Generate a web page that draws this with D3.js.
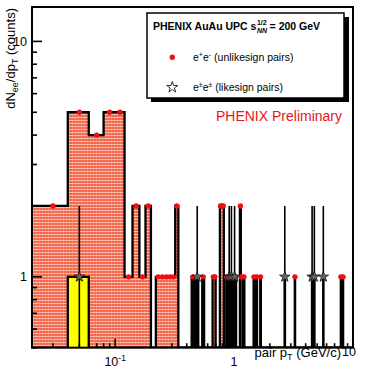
<!DOCTYPE html>
<html>
<head>
<meta charset="utf-8">
<script src="https://cdn.jsdelivr.net/npm/d3@7"></script>
<style>
  body { margin: 0; background: #fff; }
  svg { display: block; font-family: "Liberation Sans", Arial, sans-serif; }
</style>
</head>
<body>
<script>
// e+e- (unlikesign) pairs: bin centres in GeV/c, 0.02 GeV/c wide bins
var ulCenters = [0.03, 0.05, 0.07, 0.09, 0.11, 0.13, 0.15, 0.17, 0.19, 0.23, 0.25, 0.27, 0.29, 0.31, 0.33,
    0.45, 0.55, 0.67, 0.69, 0.77, 0.79, 0.81, 0.87, 0.89, 0.97, 1.03, 1.13, 1.15, 1.17, 1.21,
    1.47, 1.55, 1.67, 3.25, 7.91, 8.25];
var ulCounts = [2, 5, 4, 5, 5, 1, 2, 1, 2, 1, 1, 1, 1, 1, 2,
    1, 1, 1, 1, 2, 2, 2, 1, 1, 1, 1, 2, 1, 1, 1,
    1, 1, 1, 1, 1, 1];

// likesign pairs
var lsCenters = [0.05, 0.49, 0.91, 0.95, 1.01, 2.67, 4.53, 4.73, 5.63];
var lsCounts = [1, 1, 1, 1, 1, 1, 1, 1, 1];

var binWidth = 0.02;
var xDomain = [0.02, 10];
var yDomain = [0.5, 14];

var xTickValues = [0.1, 1, 10];
var xTickBase = ["10", "1", "10"];
var xTickExp = ["-1", "", ""];
var yTickValues = [1, 10];
var yTickLabels = ["1", "10"];

var w = 371, h = 383;
var pLeft = 32, pRight = 353, pTop = 7, pBottom = 347.7;

var svg = d3.select("body").append("svg")
    .attr("width", w)
    .attr("height", h);

var x = d3.scaleLog().domain(xDomain).range([pLeft, pRight]);
var y = d3.scaleLog().domain(yDomain).range([pBottom, pTop]);

// hatch-like fill used by ROOT for the unlikesign histogram
var defs = svg.append("defs");
var pat = defs.append("pattern")
    .attr("id", "hatch")
    .attr("width", 3).attr("height", 3)
    .attr("patternUnits", "userSpaceOnUse");
pat.append("rect").attr("width", 3).attr("height", 3).attr("fill", "#f3664a");
pat.append("rect").attr("width", 3).attr("height", 1).attr("fill", "#fff").attr("opacity", 0.5);
pat.append("rect").attr("width", 1).attr("height", 3).attr("fill", "#fff").attr("opacity", 0.15);

defs.append("clipPath").attr("id", "plotclip")
    .append("rect").attr("x", pLeft).attr("y", pTop)
    .attr("width", pRight - pLeft).attr("height", pBottom - pTop);

function makeBins(centers, counts) {
    var m = new Map();
    centers.forEach(function (c, i) { m.set(Math.round(c / binWidth - 0.5), counts[i]); });
    var first = Math.round(xDomain[0] / binWidth);
    var last = Math.round(xDomain[1] / binWidth);
    var out = [];
    for (var b = first; b < last; b++) out.push({ x0: b * binWidth, n: m.get(b) || 0 });
    out.push({ x0: last * binWidth, n: 0 });
    return out;
}

var ulBins = makeBins(ulCenters, ulCounts);
var lsBins = makeBins(lsCenters, lsCounts);

function yv(n) { return n > 0 ? y(n) : pBottom; }

var area = d3.area()
    .curve(d3.curveStepAfter)
    .x(function (d) { return x(d.x0); })
    .y0(pBottom)
    .y1(function (d) { return yv(d.n); });

var line = d3.line()
    .curve(d3.curveStepAfter)
    .x(function (d) { return x(d.x0); })
    .y(function (d) { return yv(d.n); });

var plot = svg.append("g").attr("clip-path", "url(#plotclip)");

// unlikesign histogram
plot.append("path").datum(ulBins)
    .attr("d", area)
    .attr("fill", "url(#hatch)");
plot.append("path").datum(ulBins)
    .attr("d", line)
    .attr("fill", "none")
    .attr("stroke", "#000")
    .attr("stroke-width", 2.3);

// likesign histogram
plot.append("path").datum(lsBins)
    .attr("d", area)
    .attr("fill", "#ffff00");
plot.append("path").datum(lsBins)
    .attr("d", line)
    .attr("fill", "none")
    .attr("stroke", "#000")
    .attr("stroke-width", 2.3);

// red markers for unlikesign
plot.selectAll("circle.ul")
    .data(ulCenters)
    .enter()
    .append("circle")
    .attr("class", "ul")
    .attr("cx", function (d) { return x(d); })
    .attr("cy", function (d, i) { return y(ulCounts[i]); })
    .attr("r", 2.7)
    .attr("fill", "#ee1111");

// error bars + stars for likesign
plot.selectAll("line.err")
    .data(lsCenters)
    .enter()
    .append("line")
    .attr("class", "err")
    .attr("x1", function (d) { return x(d); })
    .attr("x2", function (d) { return x(d); })
    .attr("y1", function (d, i) { return y(lsCounts[i] + Math.sqrt(lsCounts[i])); })
    .attr("y2", function (d, i) {
        var lo = lsCounts[i] - Math.sqrt(lsCounts[i]);
        return lo > yDomain[0] ? y(lo) : pBottom;
    })
    .attr("stroke", "#000")
    .attr("stroke-width", 1.6);

var star = d3.symbol().type(d3.symbolStar).size(34);
plot.selectAll("path.star")
    .data(lsCenters)
    .enter()
    .append("path")
    .attr("class", "star")
    .attr("d", star)
    .attr("transform", function (d, i) { return "translate(" + x(d) + "," + y(lsCounts[i]) + ")"; })
    .attr("fill", "#666")
    .attr("stroke", "#111")
    .attr("stroke-width", 0.8);

// ticks (ROOT style, pointing inside the frame)
var xt = x.ticks().filter(function (t) { return t >= xDomain[0] && t <= xDomain[1]; });
svg.append("g").selectAll("line")
    .data(xt)
    .enter()
    .append("line")
    .attr("x1", function (d) { return x(d); })
    .attr("x2", function (d) { return x(d); })
    .attr("y1", pBottom)
    .attr("y2", function (d) { return Math.abs(Math.log10(d) - Math.round(Math.log10(d))) < 1e-9 ? pBottom - 9 : pBottom - 4.5; })
    .attr("stroke", "#000")
    .attr("stroke-width", 1.6);

var yt = y.ticks().filter(function (t) { return t >= yDomain[0] && t <= yDomain[1]; });
svg.append("g").selectAll("line")
    .data(yt)
    .enter()
    .append("line")
    .attr("y1", function (d) { return y(d); })
    .attr("y2", function (d) { return y(d); })
    .attr("x1", pLeft)
    .attr("x2", function (d) { return Math.abs(Math.log10(d) - Math.round(Math.log10(d))) < 1e-9 ? pLeft + 10 : pLeft + 5; })
    .attr("stroke", "#000")
    .attr("stroke-width", 1.6);

// frame
svg.append("rect")
    .attr("x", pLeft).attr("y", pTop)
    .attr("width", pRight - pLeft).attr("height", pBottom - pTop)
    .attr("fill", "none")
    .attr("stroke", "#000")
    .attr("stroke-width", 2);

// tick labels
svg.append("g").selectAll("text")
    .data(yTickValues)
    .enter()
    .append("text")
    .attr("x", 27)
    .attr("y", function (d) { return y(d) + 4.5; })
    .attr("text-anchor", "end")
    .attr("font-size", 12.5)
    .text(function (d, i) { return yTickLabels[i]; });

var xl = svg.append("g").selectAll("text")
    .data(xTickValues)
    .enter()
    .append("text")
    .attr("x", function (d, i) { return i === 2 ? x(d) - 4 : x(d); })
    .attr("y", function (d, i) { return i === 2 ? 356 : 366; })
    .attr("text-anchor", "middle")
    .attr("font-size", 12.5);
xl.append("tspan").text(function (d, i) { return xTickBase[i]; });
xl.append("tspan")
    .attr("dy", -5)
    .attr("font-size", 8.5)
    .text(function (d, i) { return xTickExp[i]; });

// axis titles
var xTitle = svg.append("text")
    .attr("x", 341)
    .attr("y", 357)
    .attr("text-anchor", "end")
    .attr("font-size", 13);
xTitle.append("tspan").text("pair p");
xTitle.append("tspan").attr("dy", 3).attr("font-size", 9).text("T");
xTitle.append("tspan").attr("dy", -3).text(" (GeV/c)");

var yTitle = svg.append("text")
    .attr("transform", "translate(14.5,8) rotate(-90)")
    .attr("text-anchor", "end")
    .attr("font-size", 13);
yTitle.append("tspan").text("dN");
yTitle.append("tspan").attr("dy", 3).attr("font-size", 9).text("ee");
yTitle.append("tspan").attr("dy", -3).text("/dp");
yTitle.append("tspan").attr("dy", 3).attr("font-size", 9).text("T");
yTitle.append("tspan").attr("dy", -3).text(" (counts)");

// legend box with shadow
svg.append("rect")
    .attr("x", 151).attr("y", 17)
    .attr("width", 198).attr("height", 85)
    .attr("fill", "#000");
svg.append("rect")
    .attr("x", 147).attr("y", 13)
    .attr("width", 197).attr("height", 85)
    .attr("fill", "#fff")
    .attr("stroke", "#000")
    .attr("stroke-width", 1.5);

var lt = svg.append("text")
    .attr("x", 153).attr("y", 30)
    .attr("font-size", 10.5)
    .attr("font-weight", "bold")
    .text("PHENIX AuAu UPC s");
var ltLen = lt.node().getComputedTextLength();
var supT = svg.append("text")
    .attr("x", 153 + ltLen + 0.5).attr("y", 25)
    .attr("font-size", 7).attr("font-weight", "bold")
    .text("1/2");
var subT = svg.append("text")
    .attr("x", 153 + ltLen + 0.5).attr("y", 33)
    .attr("font-size", 7).attr("font-weight", "bold").attr("font-style", "italic")
    .text("NN");
var extra = Math.max(supT.node().getComputedTextLength(), subT.node().getComputedTextLength());
svg.append("text")
    .attr("x", 153 + ltLen + extra + 3).attr("y", 30)
    .attr("font-size", 10.5)
    .attr("font-weight", "bold")
    .text("= 200 GeV");

svg.append("circle")
    .attr("cx", 172.3).attr("cy", 57.3).attr("r", 2.7)
    .attr("fill", "#ee1111");
var e1 = svg.append("text").attr("x", 193).attr("y", 60.5).attr("font-size", 10.5);
e1.append("tspan").text("e");
e1.append("tspan").attr("dy", -4).attr("font-size", 7).text("+");
e1.append("tspan").attr("dy", 4).text("e");
e1.append("tspan").attr("dy", -4).attr("font-size", 7).text("-");
e1.append("tspan").attr("dy", 4).text(" (unlikesign pairs)");

svg.append("path")
    .attr("d", d3.symbol().type(d3.symbolStar).size(38))
    .attr("transform", "translate(172.3,87.3)")
    .attr("fill", "#fff")
    .attr("stroke", "#000")
    .attr("stroke-width", 0.8);
var e2 = svg.append("text").attr("x", 193).attr("y", 90.7).attr("font-size", 10.5);
e2.append("tspan").text("e");
e2.append("tspan").attr("dy", -4).attr("font-size", 7).text("\u00b1");
e2.append("tspan").attr("dy", 4).text("e");
e2.append("tspan").attr("dy", -4).attr("font-size", 7).text("\u00b1");
e2.append("tspan").attr("dy", 4).text(" (likesign pairs)");

svg.append("text")
    .attr("x", 342).attr("y", 121)
    .attr("text-anchor", "end")
    .attr("font-size", 14)
    .attr("fill", "#e8141c")
    .text("PHENIX Preliminary");
</script>
</body>
</html>
